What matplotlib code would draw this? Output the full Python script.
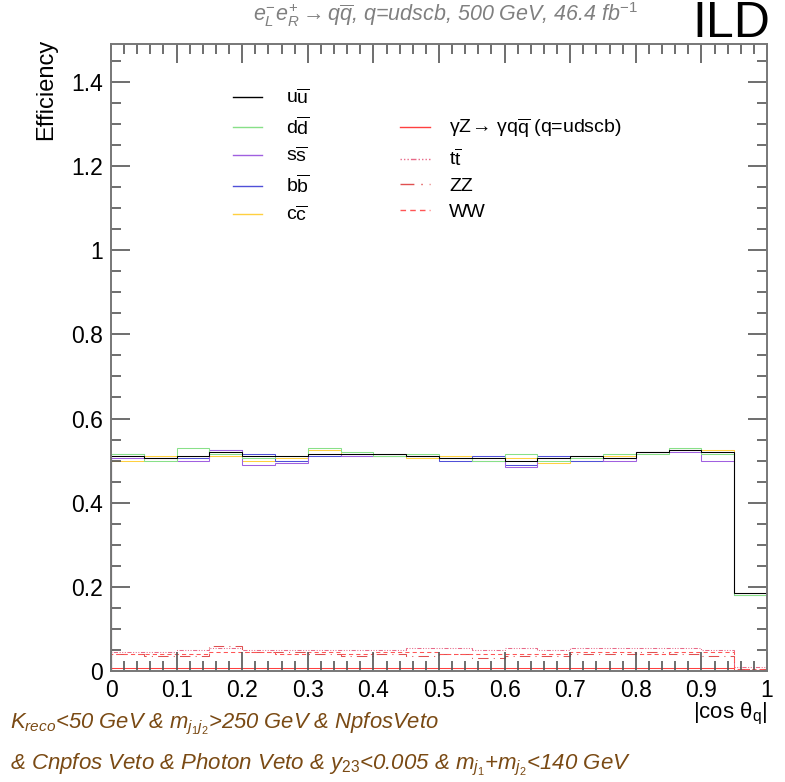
import matplotlib
matplotlib.use('Agg')
import matplotlib.pyplot as plt
from matplotlib.lines import Line2D
from matplotlib.ticker import MultipleLocator
import numpy as np

plt.rcParams['font.family'] = ['Liberation Sans', 'DejaVu Sans']
plt.rcParams['mathtext.fontset'] = 'custom'
plt.rcParams['mathtext.rm'] = 'Liberation Sans'
plt.rcParams['mathtext.it'] = 'Liberation Sans:italic'
plt.rcParams['mathtext.bf'] = 'Liberation Sans:bold'

# |cos theta| bins
edges = np.linspace(0, 1, 21)

# signal efficiencies per bin
eff_uu = [0.510, 0.505, 0.510, 0.520, 0.510, 0.510, 0.515, 0.515, 0.515, 0.510,
          0.505, 0.505, 0.500, 0.505, 0.510, 0.505, 0.520, 0.525, 0.520, 0.185]
eff_dd = [0.515, 0.500, 0.530, 0.515, 0.505, 0.510, 0.530, 0.520, 0.510, 0.515,
          0.505, 0.500, 0.515, 0.500, 0.505, 0.515, 0.515, 0.530, 0.515, 0.180]
eff_ss = [0.505, 0.505, 0.500, 0.525, 0.490, 0.495, 0.515, 0.510, 0.515, 0.510,
          0.505, 0.500, 0.485, 0.505, 0.510, 0.500, 0.520, 0.520, 0.500, 0.185]
eff_bb = [0.515, 0.505, 0.505, 0.525, 0.515, 0.500, 0.510, 0.515, 0.510, 0.510,
          0.500, 0.510, 0.490, 0.510, 0.500, 0.505, 0.520, 0.525, 0.520, 0.180]
eff_cc = [0.500, 0.510, 0.505, 0.510, 0.500, 0.505, 0.525, 0.510, 0.510, 0.505,
          0.510, 0.505, 0.505, 0.495, 0.500, 0.510, 0.520, 0.525, 0.525, 0.185]

# backgrounds
eff_gz = [0.008, 0.008, 0.007, 0.008, 0.008, 0.007, 0.008, 0.008, 0.007, 0.008,
          0.008, 0.007, 0.008, 0.008, 0.007, 0.008, 0.008, 0.007, 0.008, 0.003]
eff_tt = [0.045, 0.045, 0.050, 0.055, 0.050, 0.050, 0.050, 0.050, 0.050, 0.055,
          0.055, 0.050, 0.055, 0.050, 0.055, 0.055, 0.055, 0.055, 0.050, 0.010]
eff_zz = [0.040, 0.035, 0.035, 0.060, 0.045, 0.045, 0.040, 0.035, 0.040, 0.035,
          0.040, 0.030, 0.035, 0.035, 0.040, 0.040, 0.045, 0.040, 0.035, 0.005]
eff_ww = [0.040, 0.040, 0.040, 0.045, 0.045, 0.040, 0.045, 0.040, 0.045, 0.045,
          0.040, 0.040, 0.040, 0.040, 0.045, 0.045, 0.040, 0.045, 0.045, 0.005]

sig = [
    (eff_uu, r'$\mathrm{u\overline{u}}$', '#000000'),
    (eff_dd, r'$\mathrm{d\overline{d}}$', '#88e088'),
    (eff_ss, r'$\mathrm{s\overline{s}}$', '#a060e0'),
    (eff_bb, r'$\mathrm{b\overline{b}}$', '#5050d8'),
    (eff_cc, r'$\mathrm{c\overline{c}}$', '#ffd040'),
]
bkg = [
    (eff_gz, r'$\mathrm{\gamma Z\!\rightarrow\, \gamma q\overline{q}}$ (q=udscb)', '#ff4040', '-'),
    (eff_tt, r'$\mathrm{t\overline{t}}$', '#e86a88', (0, (1, 1.5, 1, 1.5, 1, 1.5, 4, 1.5))),
    (eff_zz, 'ZZ', '#e05050', (0, (10, 5, 1, 5))),
    (eff_ww, 'WW', '#ff5555', (0, (4, 3))),
]

fig = plt.figure(figsize=(7.85, 7.82), dpi=100)
ax = fig.add_axes([111/785, 1-671/782, 656/785, 627/782])

for vals, lab, col, ls in bkg:
    ax.stairs(vals, edges, color=col, lw=0.75, linestyle=ls)
for vals, lab, col in sig[::-1]:
    ax.stairs(vals, edges, color=col, lw=0.75)

ax.set_xlim(0, 1)
ax.set_ylim(0, 1.49)
ax.xaxis.set_minor_locator(MultipleLocator(0.02))
ax.yaxis.set_minor_locator(MultipleLocator(0.05))
ax.set_xticks(np.arange(0, 1.01, 0.1))
ax.set_xticklabels(['0', '0.1', '0.2', '0.3', '0.4', '0.5', '0.6', '0.7', '0.8', '0.9', '1'])
ax.set_yticks(np.arange(0, 1.41, 0.2))
ax.set_yticklabels(['0', '0.2', '0.4', '0.6', '0.8', '1', '1.2', '1.4'])
ax.tick_params(which='both', direction='in', top=True, right=True, colors='#555555',
               labelcolor='black', labelsize=16.5, width=1.2)
ax.tick_params(which='major', length=14, pad=6)
ax.tick_params(which='minor', length=7)
for s in ax.spines.values():
    s.set_color('#777777')
    s.set_linewidth(1.4)

h1 = [Line2D([], [], color=c, lw=1.0) for _, _, c in sig]
leg1 = ax.legend(h1, [l for _, l, _ in sig], loc='upper left', bbox_to_anchor=(0.186, 0.930),
                 frameon=False, fontsize=14, handlelength=1.5, handletextpad=1.2,
                 labelspacing=0.42, borderpad=0, borderaxespad=0)
ax.add_artist(leg1)
h2 = [Line2D([], [], color=c, lw=1.0, linestyle=ls) for _, _, c, ls in bkg]
ax.legend(h2, [l for _, l, _, _ in bkg], loc='upper left', bbox_to_anchor=(0.44, 0.885),
          frameon=False, fontsize=14, handlelength=1.55, handletextpad=1.0,
          labelspacing=0.42, borderpad=0, borderaxespad=0)

fig.text(446/785, 1-15/782,
         r'$e^{-}_{L}e^{+}_{R} \rightarrow q\overline{q}$, q=udscb, 500 GeV, 46.4 fb$^{-1}$',
         ha='center', va='center', fontsize=15.5, color='#808080', style='italic')
fig.text(770/785, 1-24/782, 'ILD', ha='right', va='center', fontsize=36)
fig.text(46/785, 1-39/782, 'Efficiency', rotation=90, ha='center', va='top', fontsize=17)
fig.text(767/785, 1-714/782, r'|cos $\mathrm{\theta_{q}}$|', ha='right', va='center', fontsize=16)

brown = '#7a4a14'
fig.text(10/785, 1-724/782, r'$K_{reco}$<50 GeV & $m_{j_{1}j_{2}}$>250 GeV & NpfosVeto',
         ha='left', va='center', fontsize=15.8, color=brown, style='italic')
fig.text(10/785, 1-765/782,
         r'& Cnpfos Veto & Photon Veto & $y_{23}$<0.005 & $m_{j_{1}}$+$m_{j_{2}}$<140 GeV',
         ha='left', va='center', fontsize=16, color=brown, style='italic')

fig.savefig('out.png', dpi=100)
